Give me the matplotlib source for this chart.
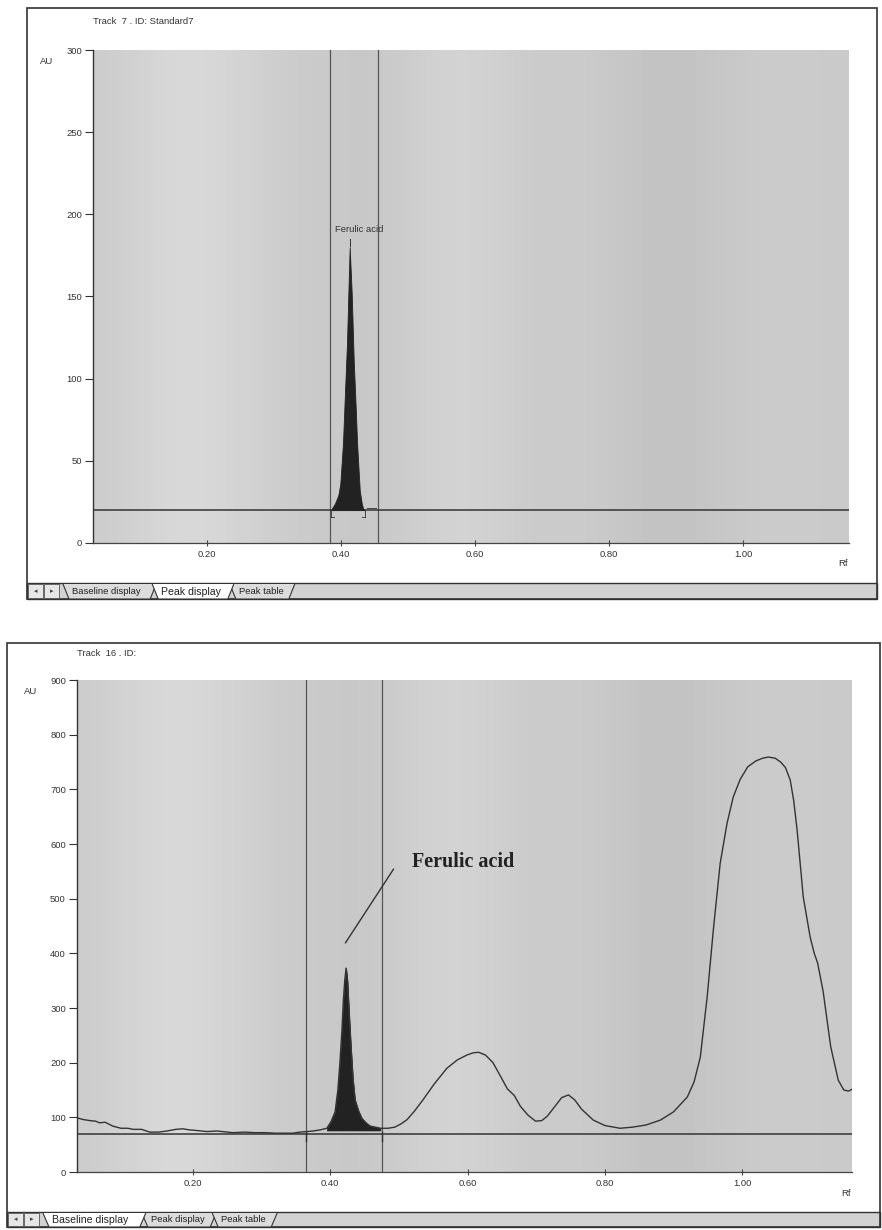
import numpy as np
import matplotlib
matplotlib.use("Agg")
import matplotlib.pyplot as plt
from matplotlib.patches import Rectangle, Polygon
from matplotlib.lines import Line2D

plt.rcParams['font.family'] = ['Liberation Sans', 'DejaVu Sans']

# ---------------- data ----------------
# Top panel (Track 7, standard)
top_title = "Track  7 . ID: Standard7"
top_yticks = [0, 50, 100, 150, 200, 250, 300]
top_baseline = 20
top_markers = [0.383, 0.455]
top_rf = [0.385, 0.391, 0.396, 0.399, 0.403, 0.406, 0.409, 0.411, 0.413,
          0.416, 0.419, 0.422, 0.424, 0.428, 0.431, 0.433, 0.436]
top_au = [20, 24, 29, 36, 61, 92, 122, 152, 180,
          152, 111, 82, 61, 32, 24, 21, 20]

# Bottom panel (Track 16, sample)
bot_title = "Track  16 . ID:"
bot_yticks = [0, 100, 200, 300, 400, 500, 600, 700, 800, 900]
bot_baseline = 70
bot_markers = [0.364, 0.476]
bot_rf = [0.031, 0.040, 0.050, 0.058, 0.064, 0.072, 0.083, 0.095, 0.105,
          0.113, 0.125, 0.137, 0.150, 0.162, 0.175, 0.185, 0.195, 0.205,
          0.220, 0.235, 0.250, 0.258, 0.275, 0.290, 0.305, 0.320, 0.331,
          0.345, 0.356, 0.366, 0.375, 0.385, 0.395, 0.401, 0.407, 0.411,
          0.414, 0.417, 0.419, 0.421, 0.423, 0.425, 0.427, 0.430, 0.433,
          0.436, 0.441, 0.446, 0.452, 0.458, 0.466, 0.473, 0.484, 0.494,
          0.503, 0.512, 0.523, 0.535, 0.552, 0.570, 0.585, 0.599, 0.608,
          0.616, 0.626, 0.637, 0.648, 0.658, 0.668, 0.677, 0.688, 0.699,
          0.708, 0.716, 0.726, 0.737, 0.747, 0.756, 0.766, 0.783, 0.800,
          0.822, 0.840, 0.860, 0.881, 0.900, 0.920, 0.930, 0.939, 0.949,
          0.958, 0.968, 0.978, 0.987, 0.997, 1.008, 1.020, 1.030, 1.038,
          1.048, 1.056, 1.063, 1.070, 1.075, 1.080, 1.089, 1.099, 1.105,
          1.110, 1.118, 1.129, 1.140, 1.148, 1.155, 1.161]
bot_au = [99, 96, 94, 93, 90, 91, 84, 80, 80,
          78, 78, 73, 73, 75, 78, 79, 77, 76,
          74, 75, 73, 72, 73, 72, 72, 71, 71,
          71, 73, 74, 75, 77, 80, 92, 110, 150,
          200, 260, 314, 350, 373, 350, 300, 230, 170,
          132, 112, 98, 90, 84, 82, 80, 80, 82,
          88, 96, 112, 132, 162, 190, 205, 214, 218,
          219, 214, 200, 175, 152, 140, 120, 104, 93,
          94, 102, 118, 136, 141, 132, 115, 95, 85,
          80, 82, 86, 95, 110, 137, 165, 210, 320,
          443, 565, 638, 686, 718, 741, 752, 757, 759,
          757, 750, 740, 717, 680, 626, 503, 430, 400,
          382, 330, 229, 168, 150, 148, 152]
bot_fill_range = (0.395, 0.478)
bot_fill_floor = 76

xticks = [0.20, 0.40, 0.60, 0.80, 1.00]

# ---------------- figure ----------------
W, H = 882, 1230
fig = plt.figure(figsize=(W / 100, H / 100), dpi=100)
fig.patch.set_facecolor('white')


def fx(x):
    return x / W


def fy(y):
    return 1 - y / H


def frame(x0, y0, x1, y1, lw=1.2):
    fig.patches.append(Rectangle((fx(x0), fy(y1)), fx(x1) - fx(x0), fy(y0) - fy(y1),
                                 transform=fig.transFigure, fill=False,
                                 edgecolor='#333333', lw=lw, zorder=5))


def tabbar(x0, x1, y0, y1, active):
    # grey bar
    fig.patches.append(Rectangle((fx(x0), fy(y1)), fx(x1) - fx(x0), fy(y0) - fy(y1),
                                 transform=fig.transFigure, facecolor='#d2d2d2',
                                 edgecolor='#333333', lw=1.0, zorder=4))
    # arrow buttons
    for bx in (x0, x0 + 16):
        fig.patches.append(Rectangle((fx(bx + 1), fy(y1 - 1)), fx(15) , fy(y0 + 1) - fy(y1 - 1),
                                     transform=fig.transFigure, facecolor='#e6e6e6',
                                     edgecolor='#555555', lw=0.6, zorder=6))
    fig.text(fx(x0 + 8.5), fy((y0 + y1) / 2), '◂', ha='center', va='center', fontsize=5,
             color='#444444', family=['DejaVu Sans'], zorder=7)
    fig.text(fx(x0 + 24.5), fy((y0 + y1) / 2), '▸', ha='center', va='center', fontsize=5,
             color='#444444', family=['DejaVu Sans'], zorder=7)
    names = ["Baseline display", "Peak display", "Peak table"]
    x = x0 + 36
    for i, n in enumerate(names):
        is_act = (i == active)
        fs = 7.6 if is_act else 6.8
        wid = len(n) * (5.3 if is_act else 4.7) + 12
        poly = [(x, y0 + 1), (x + 6, y1), (x + wid, y1), (x + wid + 6, y0 + 1)]
        pts = [(fx(a), fy(b)) for a, b in poly]
        fig.patches.append(Polygon(pts, closed=False, transform=fig.transFigure,
                                   facecolor='white' if is_act else '#dcdcdc',
                                   edgecolor='#333333', lw=0.8, zorder=6 + (2 if is_act else 0)))
        fig.text(fx(x + 9), fy((y0 + y1) / 2 + 0.5), n, ha='left', va='center', fontsize=fs,
                 color='#222222', zorder=9)
        x = x + wid + 2


def make_axes(ax_px, xlim, ylim, yticks, title, title_px, au_px, rf_px):
    x0, y0, x1, y1 = ax_px
    ax = fig.add_axes([fx(x0), fy(y1), fx(x1) - fx(x0), fy(y0) - fy(y1)])
    ax.set_xlim(*xlim)
    ax.set_ylim(*ylim)
    ax.set_facecolor('#cbcbcb')
    # faint vertical shading bands (scanner texture)
    shade = np.array([[0.80, 0.84, 0.85, 0.83, 0.80, 0.79, 0.78, 0.80, 0.83, 0.82,
                       0.79, 0.80, 0.78, 0.76, 0.77, 0.79, 0.80, 0.79]])
    ax.imshow(shade, extent=[xlim[0], xlim[1], ylim[0], ylim[1]], aspect='auto',
              cmap='gray', vmin=0, vmax=1, interpolation='bicubic', zorder=0)
    for s in ('top', 'right'):
        ax.spines[s].set_visible(False)
    ax.spines['left'].set_color('#333333')
    ax.spines['bottom'].set_color('#444444')
    ax.spines['left'].set_linewidth(1.0)
    ax.spines['bottom'].set_linewidth(0.9)
    ax.spines['bottom'].set_linestyle((0, (2, 1)))
    ax.set_yticks(yticks)
    ax.set_xticks(xticks)
    ax.set_xticklabels([f"{t:.2f}" for t in xticks])
    ax.tick_params(axis='y', direction='out', length=6, width=0.8, color='#333333',
                   labelsize=6.8, labelcolor='#333333', pad=2)
    ax.tick_params(axis='x', direction='inout', length=4, width=0.8, color='#444444',
                   labelsize=6.8, labelcolor='#333333', pad=3)
    fig.text(fx(title_px[0]), fy(title_px[1]), title, ha='left', va='center',
             fontsize=6.8, color='#333333')
    fig.text(fx(au_px[0]), fy(au_px[1]), 'AU', ha='left', va='center',
             fontsize=6.8, color='#333333')
    fig.text(fx(rf_px[0]), fy(rf_px[1]), 'Rf', ha='left', va='center',
             fontsize=6.8, color='#333333')
    return ax


# ---------------- top panel ----------------
frame(27, 8, 877, 599)
axt = make_axes((93, 50, 849, 543), (0.030, 1.158), (0, 300), top_yticks,
                top_title, (93, 21), (40, 62), (838, 564))
for m in top_markers:
    axt.axvline(m, color='#555555', lw=0.9, zorder=3)
axt.axhline(top_baseline, color='#333333', lw=1.1, zorder=3)
axt.fill_between(top_rf, top_au, top_baseline, color='#222222', lw=0.6,
                 edgecolor='#222222', zorder=4)
# peak boundary brackets
for xb, d in ((top_rf[0], 1), (top_rf[-1], -1)):
    axt.plot([xb, xb], [top_baseline, top_baseline - 4], color='#444444', lw=0.7, zorder=4)
    axt.plot([xb, xb + d * 0.004], [top_baseline - 4, top_baseline - 4], color='#444444', lw=0.7, zorder=4)
axt.plot([top_rf[-1] + 0.003, top_markers[1] - 0.003], [top_baseline + 1, top_baseline + 1],
         color='#444444', lw=0.7, zorder=4)
# label
imax = int(np.argmax(top_au))
axt.plot([top_rf[imax], top_rf[imax]], [top_au[imax] + 1, top_au[imax] + 5],
         color='#333333', lw=0.7, zorder=4)
axt.text(top_rf[imax] - 0.022, top_au[imax] + 8, 'Ferulic acid', fontsize=6.8,
         color='#333333', ha='left', va='bottom', zorder=5)
tabbar(27, 877, 583, 599, active=1)

# ---------------- bottom panel ----------------
frame(7, 643, 880, 1227)
axb = make_axes((77, 680, 852, 1172), (0.031, 1.160), (0, 900), bot_yticks,
                bot_title, (77, 653), (24, 692), (841, 1193))
for m in bot_markers:
    axb.axvline(m, color='#555555', lw=0.9, zorder=3)
axb.axhline(bot_baseline, color='#333333', lw=1.1, zorder=3)
rf = np.array(bot_rf)
au = np.array(bot_au)
mask = (rf >= bot_fill_range[0]) & (rf <= bot_fill_range[1])
axb.fill_between(rf[mask], au[mask], bot_fill_floor, color='#222222', lw=0.5,
                 edgecolor='#222222', zorder=4)
axb.plot(rf, au, color='#333333', lw=1.0, zorder=5)
for m in bot_markers:
    axb.plot([m, m], [bot_baseline + 4, bot_baseline - 14], color='#333333', lw=1.0, zorder=5)
ib = int(np.argmax(np.where(mask, au, 0)))
axb.annotate('Ferulic acid', xy=(bot_rf[ib] - 0.001, bot_au[ib] + 46),
             xytext=(0.519, 567), fontsize=14.5, fontweight='bold',
             family=['Liberation Serif'], color='#222222', ha='left', va='center',
             arrowprops=dict(arrowstyle='-', color='#333333', lw=1.0,
                             shrinkA=0, shrinkB=0,
                             relpos=(-0.18, 0.15)),
             zorder=6)
tabbar(7, 880, 1212, 1227, active=0)

fig.savefig('out.png', dpi=100, facecolor='white')
